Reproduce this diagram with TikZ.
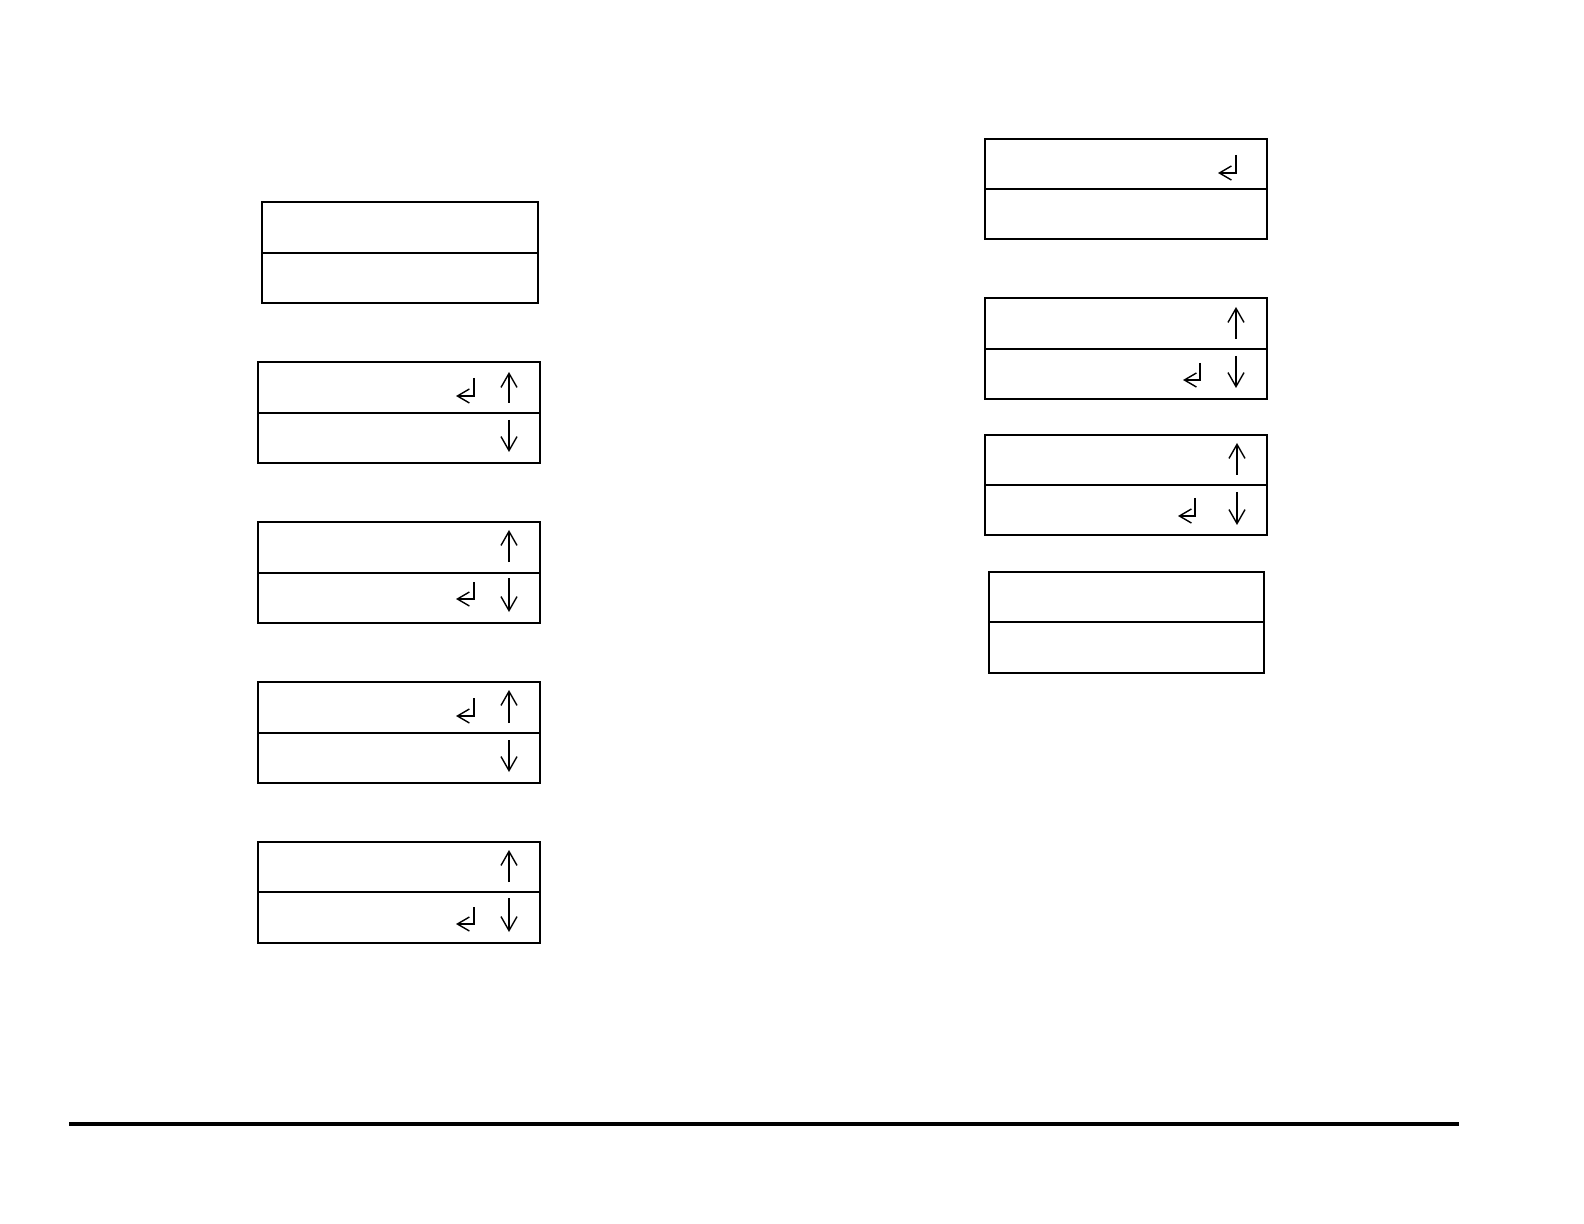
\documentclass[tikz,border=0pt]{standalone}
\usetikzlibrary{arrows.meta}
\tikzset{
  lcd/.style={draw=black, line width=0.65pt},
  vkey/.style={draw=black, line width=0.7pt, -{Straight Barb[length=7pt,width=8pt,line width=0.7pt]}},
  retkey/.style={draw=black, line width=0.7pt, -{Straight Barb[length=6pt,width=7pt,line width=0.7pt]}},
  rule/.style={draw=black, line width=2pt}
}
\begin{document}
\begin{tikzpicture}[x=0.5pt,y=-0.5pt]
\useasboundingbox (0,0) rectangle (1584,1224);
% left column
\draw[lcd] (262,202) rectangle (538,303); \draw[lcd] (262,253) -- (538,253);
\draw[lcd] (258,362) rectangle (540,463); \draw[lcd] (258,413) -- (540,413);
\draw[lcd] (258,522) rectangle (540,623); \draw[lcd] (258,573) -- (540,573);
\draw[lcd] (258,682) rectangle (540,783); \draw[lcd] (258,733) -- (540,733);
\draw[lcd] (258,842) rectangle (540,943); \draw[lcd] (258,892) -- (540,892);
% box 2
\draw[retkey] (474,378) -- (474,396) -- (456,396);
\draw[vkey] (509,403) -- (509,372);
\draw[vkey] (509,420) -- (509,452);
% box 3
\draw[vkey] (509,562) -- (509,530);
\draw[retkey] (474,582) -- (474,599) -- (456,599);
\draw[vkey] (509,578) -- (509,612);
% box 4
\draw[retkey] (474,698) -- (474,716) -- (456,716);
\draw[vkey] (509,723) -- (509,690);
\draw[vkey] (509,740) -- (509,772);
% box 5
\draw[vkey] (509,882) -- (509,850);
\draw[retkey] (474,907) -- (474,924) -- (456,924);
\draw[vkey] (509,898) -- (509,932);
% right column
\draw[lcd] (985,139) rectangle (1267,239); \draw[lcd] (985,189) -- (1267,189);
\draw[lcd] (985,298) rectangle (1267,399); \draw[lcd] (985,349) -- (1267,349);
\draw[lcd] (985,435) rectangle (1267,535); \draw[lcd] (985,485) -- (1267,485);
\draw[lcd] (989,572) rectangle (1264,673); \draw[lcd] (989,622) -- (1264,622);
% box A
\draw[retkey] (1236,155) -- (1236,173) -- (1218,173);
% box B
\draw[vkey] (1236,339) -- (1236,307);
\draw[retkey] (1200,363) -- (1200,380) -- (1183,380);
\draw[vkey] (1236,356) -- (1236,388);
% box C
\draw[vkey] (1237,475) -- (1237,443);
\draw[retkey] (1195,498) -- (1195,516) -- (1178,516);
\draw[vkey] (1237,492) -- (1237,525);
% bottom rule
\draw[rule] (69,1124) -- (1459,1124);
\end{tikzpicture}
\end{document}
